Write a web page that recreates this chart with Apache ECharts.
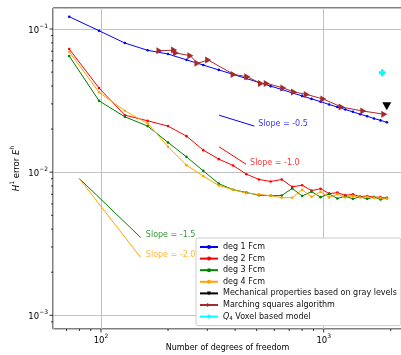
<!DOCTYPE html>
<html><head><meta charset="utf-8">
<script src="https://cdn.jsdelivr.net/npm/echarts@6/dist/echarts.min.js"></script>
<style>html,body{margin:0;padding:0;background:#fff}#c{width:401px;height:355px}</style>
</head><body><div id="c"></div>
<script>
// degrees of freedom (shared by the Fcm series)
const dofs = [72,98,128,162,200,242,288,338,392,450,512,578,648,722,800,882,968,1058,1152,1250,1352,1458,1568,1682,1800,1922];
const deg1 = [0.1219,0.0973,0.0798,0.0710,0.0669,0.0609,0.0560,0.0518,0.0482,0.0451,0.0423,0.0399,0.0378,0.0358,0.0341,0.0325,0.0311,0.0297,0.0285,0.0274,0.0264,0.0254,0.0246,0.0237,0.0230,0.0223];
const deg2 = [0.0725,0.0387,0.0250,0.02284,0.02098,0.01785,0.01425,0.01233,0.01114,0.00968,0.00889,0.00861,0.00889,0.00789,0.00811,0.00743,0.00766,0.00708,0.00719,0.00689,0.00700,0.00674,0.00682,0.00669,0.00669,0.00658];
const deg3 = [0.0648,0.0315,0.02436,0.02098,0.01613,0.01279,0.01021,0.00831,0.00754,0.00721,0.00689,0.00685,0.00687,0.00770,0.00682,0.00731,0.00669,0.00705,0.00655,0.00679,0.00651,0.00672,0.00651,0.00669,0.00644,0.00661];
const deg4 = [0.0694,0.0361,0.02683,0.02191,0.01503,0.01119,0.00938,0.00807,0.00754,0.00713,0.00699,0.00685,0.00663,0.00663,0.00754,0.00672,0.00728,0.00666,0.00702,0.00665,0.00683,0.00665,0.00672,0.00661,0.00661,0.00655];
// marching squares algorithm
const msX = [183,213,217,252,271,303,394,454,523,555,659,736,839,996,1204,1506,1871];
const msY = [0.0704,0.0713,0.0680,0.0651,0.0576,0.0607,0.0482,0.0464,0.0416,0.0417,0.0387,0.0363,0.0349,0.0324,0.0285,0.0267,0.0254];
// single points
const mechX = [1919], mechY = [0.0289];
const voxX = [1833], voxY = [0.0495];
// slope reference lines
const slopeNames = ['Slope = -0.5','Slope = -1.0','Slope = -1.5','Slope = -2.0'];
const slopeX = [[339,488],[339,448],[79.9,150.8],[79.9,150.8]];
const slopeY = [[0.0250,0.02098],[0.01503,0.01137],[0.00903,0.00349],[0.00903,0.00253]];
const slopeLabelX = [508,467,159,159];
const slopeLabelY = [0.02157,0.01169,0.003625,0.002657];
// axes
const xMin = 60.88, xMax = 2247, yMin = 8.02e-4, yMax = 0.14025;
const xMajor = [100,1000];
const xMinor = [70,80,90,200,300,400,500,600,700,800,900,2000];
const yMajor = [0.001,0.01,0.1];
const yMinor = [0.0009,0.002,0.003,0.004,0.005,0.006,0.007,0.008,0.009,0.02,0.03,0.04,0.05,0.06,0.07,0.08,0.09];
const legendNames = ['deg 1 Fcm','deg 2 Fcm','deg 3 Fcm','deg 4 Fcm','Mechanical properties based on gray levels','Marching squares algorithm','Q4 Voxel based model'];

const FONT = 'DejaVu Sans';
const zip = (a,b) => a.map((v,i)=>[v,b[i]]);
const supRich = {
  b:{fontFamily:FONT,fontSize:8.5,color:'#000',verticalAlign:'bottom',lineHeight:12},
  s:{fontFamily:FONT,fontSize:6,color:'#000',verticalAlign:'top',lineHeight:8}
};
function powLabel(v){
  const e = Math.log10(v), r = Math.round(e);
  if (Math.abs(e-r) > 1e-6) return '';
  return '{b|10}{s|' + (r<0 ? '\u2212'+(-r) : r) + '}';
}
const triDown = 'path://M0,0L10,0L5,9Z';
const triRight = 'path://M0,0L9,5L0,10Z';
const plus = 'path://M3,0H7V3H10V7H7V10H3V7H0V3H3Z';

function fcm(name, data, color){
  return {name, type:'line', data:zip(dofs,data), symbol:'circle', symbolSize:2.6,
    lineStyle:{color, width:1}, itemStyle:{color}, z:3};
}
const series = [
  fcm(legendNames[0], deg1, '#0000ff'),
  fcm(legendNames[1], deg2, '#ff0000'),
  fcm(legendNames[2], deg3, '#008000'),
  fcm(legendNames[3], deg4, '#ffa500'),
  {name:legendNames[4], type:'line', data:zip(mechX,mechY), symbol:triDown, symbolSize:[9,8],
    lineStyle:{color:'#000',width:1}, itemStyle:{color:'#000'}, z:4},
  {name:legendNames[5], type:'line', data:zip(msX,msY), symbol:triRight, symbolSize:[6,7],
    lineStyle:{color:'#a52a2a',width:1}, itemStyle:{color:'#a52a2a'}, z:4},
  {name:legendNames[6], type:'line', data:zip(voxX,voxY), symbol:plus, symbolSize:7,
    lineStyle:{color:'#00ffff',width:1}, itemStyle:{color:'#00ffff'}, z:4}
];
const slopeColors = ['#0000ff','#ff0000','#008000','#ffa500'];
slopeNames.forEach((n,i)=>{
  series.push({name:'_s'+i, type:'line', data:zip(slopeX[i],slopeY[i]), symbol:'none',
    lineStyle:{color:slopeColors[i], width:1}, z:2, silent:true});
  series.push({name:'_l'+i, type:'scatter', data:[[slopeLabelX[i],slopeLabelY[i]]], symbolSize:0, silent:true,
    label:{show:true, position:'right', distance:0, formatter:n, fontFamily:FONT, fontSize:8, color:slopeColors[i]}});
});
// tick marks drawn through the axes' scales
series.push({type:'custom', silent:true, clip:false, z:10,
  data: xMajor.concat(xMinor).map(v=>[v,yMin]),
  renderItem:(p,api)=>{const c=api.coord([api.value(0),api.value(1)]);const L=xMajor.includes(api.value(0))?3.5:2;
    return {type:'line',shape:{x1:c[0],y1:c[1],x2:c[0],y2:c[1]+L},style:{stroke:'#000',lineWidth:0.8}};}});
series.push({type:'custom', silent:true, clip:false, z:10,
  data: yMajor.concat(yMinor).map(v=>[xMin,v]),
  renderItem:(p,api)=>{const c=api.coord([api.value(0),api.value(1)]);const L=yMajor.includes(api.value(1))?3.5:2;
    return {type:'line',shape:{x1:c[0],y1:c[1],x2:c[0]-L,y2:c[1]},style:{stroke:'#000',lineWidth:0.8}};}});

const chart = echarts.init(document.getElementById('c'), null, {renderer:'canvas'});
chart.setOption({
  animation:false,
  backgroundColor:'#fff',
  grid:{left:53, top:8, right:-1, bottom:26, show:true, borderColor:'#000', borderWidth:1, containLabel:false, outerBoundsMode:'none'},
  legend:{data:legendNames, orient:'vertical', left:196, top:238, padding:[4,4,4,3],
    itemWidth:18, itemHeight:5, itemGap:1.6, backgroundColor:'#fff', borderColor:'#cccccc', borderWidth:1, borderRadius:2,
    textStyle:{fontFamily:FONT, fontSize:8, color:'#111', lineHeight:10,
      rich:{i:{fontFamily:FONT,fontSize:8,fontStyle:'italic',color:'#111',lineHeight:10},
            sub:{fontFamily:FONT,fontSize:5.5,color:'#111',verticalAlign:'bottom',lineHeight:8},
            t:{fontFamily:FONT,fontSize:8,color:'#111',lineHeight:10}}},
    formatter:(n)=> n.startsWith('Q4') ? '{i|Q}{sub|4}{t| Voxel based model}' : n,
    inactiveColor:'#ccc'},
  xAxis:{type:'log', logBase:10, min:xMin, max:xMax,
    name:'Number of degrees of freedom', nameLocation:'middle', nameGap:15, nameMoveOverlap:false,
    nameTextStyle:{fontFamily:FONT, fontSize:8, color:'#000'},
    axisLine:{show:false}, axisTick:{show:false}, minorTick:{show:false},
    splitLine:{show:true, lineStyle:{color:'#c0c0c0', width:1}},
    axisLabel:{formatter:powLabel, margin:4, rich:supRich, showMinLabel:false, showMaxLabel:false}},
  yAxis:{type:'log', logBase:10, min:yMin, max:yMax,
    name:'{i|H}{s|1}{b| error }{i|E}{s|h}', nameLocation:'middle', nameGap:32, nameRotate:90, nameMoveOverlap:false,
    nameTextStyle:{rich:{i:{fontFamily:FONT,fontSize:8.5,fontStyle:'italic',color:'#000',verticalAlign:'bottom',lineHeight:12},
      b:{fontFamily:FONT,fontSize:8.5,color:'#000',verticalAlign:'bottom',lineHeight:12},
      s:{fontFamily:FONT,fontSize:6,color:'#000',verticalAlign:'top',lineHeight:8}}},
    axisLine:{show:false}, axisTick:{show:false}, minorTick:{show:false},
    splitLine:{show:true, lineStyle:{color:'#c0c0c0', width:1}},
    axisLabel:{formatter:powLabel, margin:5, rich:supRich, showMinLabel:false, showMaxLabel:false}},
  series
});
</script></body></html>
